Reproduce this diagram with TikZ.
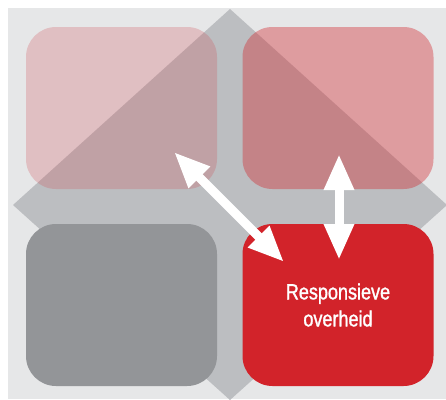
\documentclass[tikz,border=0pt]{standalone}
\usepackage{fontspec}
\setmainfont{Liberation Sans}[FakeStretch=0.82]
\newfontfamily\smalkop{Liberation Sans}[FakeStretch=0.82, FakeBold=1.3]
\usetikzlibrary{arrows.meta}
\definecolor{achtergrond}{HTML}{E6E7E8}
\definecolor{ruit}{HTML}{BCBEC1}
\definecolor{grijs}{HTML}{939598}
\definecolor{rood}{HTML}{D2232A}
\definecolor{roze}{HTML}{CF4E57}

\begin{document}
\begin{tikzpicture}[x=1pt, y=-1pt,
		vak/.style={rounded corners=30pt, minimum width=191pt, minimum height=162pt, inner sep=0pt},
		pijl/.style={white, line width=9pt, {Triangle[length=36pt, width=28pt]}-{Triangle[length=36pt, width=28pt]}}]
				\useasboundingbox (0,0) rectangle (446,399);
				\fill[achtergrond] (8,8) rectangle (446,399);
				\fill[ruit] (13,205) -- (230,9) -- (447,205) -- (230,400) -- cycle;
				\node[vak, fill=roze, fill opacity=0.26] (lb) at (121.5,108) {};
				\node[vak, fill=rood, fill opacity=0.38] (rb) at (338,108) {};
				\node[vak, fill=grijs] (lo) at (121.5,305) {};
				\node[vak, fill=rood, text=white, align=center,
					font=\smalkop\fontsize{22pt}{27pt}\selectfont] (ro) at (338,305) {Responsieve\\overheid};
				\coordinate (diagA) at (174,152);
				\coordinate (diagB) at (284,262);
				\coordinate (vertA) at (339,154);
				\coordinate (vertB) at (339,260);
				\draw[pijl] (diagA) -- (diagB);
				\draw[pijl] (vertA) -- (vertB);
			\end{tikzpicture}
\end{document}
